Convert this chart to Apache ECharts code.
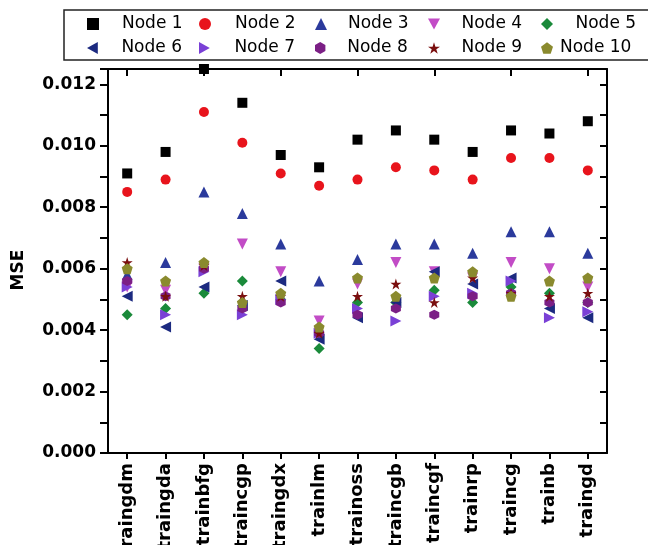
<!DOCTYPE html>
<html>
<head>
<meta charset="utf-8">
<script src="https://cdn.jsdelivr.net/npm/echarts@6/dist/echarts.min.js"></script>
<style>html,body{margin:0;padding:0;background:#fff}#c{width:648px;height:545px}</style>
</head>
<body>
<div id="c"></div>
<script>
const categories = ['traingdm','traingda','trainbfg','traincgp','traingdx','trainlm','trainoss','traincgb','traincgf','trainrp','traincg','trainb','traingd'];
const seriesNames = ['Node 1','Node 2','Node 3','Node 4','Node 5','Node 6','Node 7','Node 8','Node 9','Node 10'];
const node1  = [0.0091,0.0098,0.0125,0.0114,0.0097,0.0093,0.0102,0.0105,0.0102,0.0098,0.0105,0.0104,0.0108];
const node2  = [0.0085,0.0089,0.0111,0.0101,0.0091,0.0087,0.0089,0.0093,0.0092,0.0089,0.0096,0.0096,0.0092];
const node3  = [0.0058,0.0062,0.0085,0.0078,0.0068,0.0056,0.0063,0.0068,0.0068,0.0065,0.0072,0.0072,0.0065];
const node4  = [0.0054,0.0053,0.0060,0.0068,0.0059,0.0043,0.0055,0.0062,0.0059,0.0057,0.0062,0.0060,0.0054];
const node5  = [0.0045,0.0047,0.0052,0.0056,0.0050,0.0034,0.0049,0.0049,0.0053,0.0049,0.0054,0.0052,0.0049];
const node6  = [0.0051,0.0041,0.0054,0.0048,0.0056,0.0037,0.0044,0.0049,0.0059,0.0055,0.0057,0.0047,0.0044];
const node7  = [0.0054,0.0045,0.0059,0.0045,0.0050,0.0039,0.0047,0.0043,0.0051,0.0052,0.0056,0.0044,0.0046];
const node8  = [0.0056,0.0051,0.0060,0.0047,0.0049,0.0039,0.0045,0.0047,0.0045,0.0051,0.0052,0.0049,0.0049];
const node9  = [0.0062,0.0051,0.0061,0.0051,0.0051,0.0039,0.0051,0.0055,0.0049,0.0057,0.0052,0.0051,0.0052];
const node10 = [0.0060,0.0056,0.0062,0.0049,0.0052,0.0041,0.0057,0.0051,0.0057,0.0059,0.0051,0.0056,0.0057];
const yTicks = ['0.000','0.002','0.004','0.006','0.008','0.010','0.012'];

const values = [node1,node2,node3,node4,node5,node6,node7,node8,node9,node10];
const HEX = 'path://M50,0 L93.3,25 L93.3,75 L50,100 L6.7,75 L6.7,25 Z';
const PENT = 'path://M50,0 L97.6,34.5 L79.4,90.5 L20.6,90.5 L2.4,34.5 Z';
const STAR = 'path://M50,0 L61.2,34.5 L97.6,34.5 L68.2,55.9 L79.4,90.5 L50,69.1 L20.6,90.5 L31.8,55.9 L2.4,34.5 L38.8,34.5 Z';
const TRI_DOWN = 'path://M0,0 L100,0 L50,90 Z';
const TRI_LEFT = 'path://M90,0 L90,100 L0,50 Z';
const TRI_RIGHT = 'path://M0,0 L90,50 L0,100 Z';
const styles = [
  {symbol:'rect', size:10, color:'#000000'},
  {symbol:'circle', size:10, color:'#e8141c'},
  {symbol:'triangle', size:11, color:'#2b3a9c'},
  {symbol:TRI_DOWN, size:11, color:'#c24cc6'},
  {symbol:'diamond', size:11, color:'#1a8a3a'},
  {symbol:TRI_LEFT, size:11, color:'#1c2a80'},
  {symbol:TRI_RIGHT, size:11, color:'#7a40d6'},
  {symbol:HEX, size:10, color:'#7b1f85'},
  {symbol:STAR, size:11, color:'#7a0f0f'},
  {symbol:PENT, size:11, color:'#8a8a2e'}
];
// legend layout: icon center x, text left x, row center y
const legendPos = [
  [93,122,24],[205,235,24],[321,348,24],[434,461.5,24],[547,575.5,24],
  [93,122,48],[205,235,48],[321,348,48],[434,461.5,48],[547,560,48]
];

const legends = seriesNames.map((n,i)=>{
  const p = legendPos[i];
  return {
    data:[{name:n, icon:styles[i].symbol}],
    left:p[0]-6, top:p[2]-10, padding:0, itemWidth:12, itemHeight:12,
    selectedMode:false,
    textStyle:{fontFamily:'DejaVu Sans', fontSize:17, color:'#000', padding:[0,0,0,p[1]-p[0]-11], lineHeight:20}
  };
});

const series = seriesNames.map((n,i)=>({
  name:n, type:'scatter', xAxisIndex:0, yAxisIndex:0,
  data: values[i], symbol: styles[i].symbol, symbolSize: styles[i].size,
  itemStyle:{color: styles[i].color, opacity:1},
  emphasis:{disabled:true}
}));

const axisLine = {show:true, onZero:false, lineStyle:{color:'#000', width:2}};
const chart = echarts.init(document.getElementById('c'), null, {renderer:'canvas'});
chart.setOption({
  animation:false,
  backgroundColor:'#fff',
  grid:{left:108, right:41, top:69, bottom:92, containLabel:false, outerBoundsMode:'none'},
  legend: legends,
  xAxis:[
    {type:'category', data:categories, position:'bottom', boundaryGap:true,
     axisLine:axisLine, axisTick:{show:true, alignWithLabel:true, length:6, inside:false, lineStyle:{color:'#000', width:2}},
     axisLabel:{rotate:90, margin:10, interval:0, hideOverlap:false, fontFamily:'DejaVu Sans', fontWeight:'bold', fontSize:18, color:'#000'},
     splitLine:{show:false}},
    {type:'category', data:categories, position:'top', boundaryGap:true,
     axisLine:axisLine, axisTick:{show:true, alignWithLabel:true, length:7, inside:true, lineStyle:{color:'#000', width:2}},
     axisLabel:{show:false}, splitLine:{show:false}}
  ],
  yAxis:[
    {type:'value', min:0, max:0.0125, interval:0.001, position:'left',
     axisLine:axisLine, axisTick:{show:true, length:8, inside:false, lineStyle:{color:'#000', width:2}},
     axisLabel:{margin:12, fontFamily:'DejaVu Sans', fontWeight:'bold', fontSize:17, color:'#000',
       formatter:(v)=>{const k=Math.round(v*1000); if (Math.abs(v*1000-k)>1e-6 || k%2) return ''; return yTicks[k/2]||'';}},
     splitLine:{show:false}},
    {type:'value', min:0, max:0.0125, interval:0.001, position:'right',
     axisLine:axisLine, axisTick:{show:true, length:7, inside:true, lineStyle:{color:'#000', width:2}},
     axisLabel:{show:false}, splitLine:{show:false}}
  ],
  graphic:[
    {type:'rect', shape:{x:64, y:10, width:620, height:50}, style:{fill:'none', stroke:'#222', lineWidth:1.5}, z:-1},
    {type:'text', x:19, y:270, rotation:Math.PI/2,
     style:{text:'MSE', font:'bold 17px "DejaVu Sans"', fill:'#000', align:'center', verticalAlign:'middle'}}
  ],
  series: series
});
</script>
</body>
</html>
